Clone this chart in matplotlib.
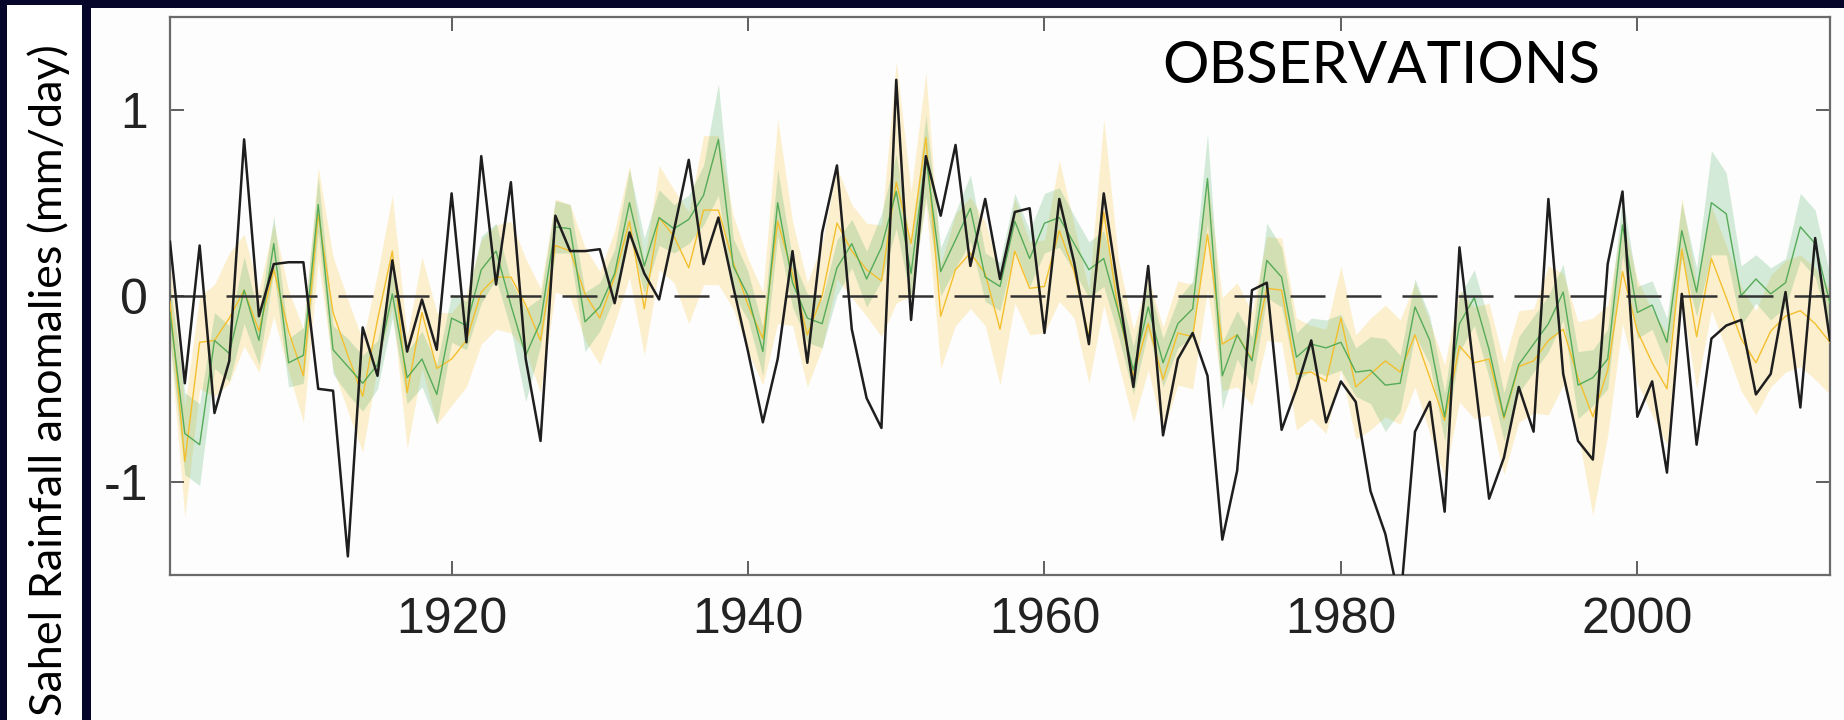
import numpy as np
import matplotlib
matplotlib.use("Agg")
import matplotlib.pyplot as plt
from matplotlib.patches import Rectangle

# ---------------- data ----------------
years = list(range(1901, 2014))

observed = [
    0.29, -0.47, 0.27, -0.63, -0.35, 0.84, -0.11, 0.17, 0.18, 0.18,
    -0.50, -0.51, -1.40, -0.17, -0.43, 0.19, -0.30, -0.02, -0.29, 0.55,
    -0.25, 0.75, 0.06, 0.61, -0.34, -0.78, 0.43, 0.24, 0.24, 0.25,
    -0.04, 0.34, 0.12, -0.02, 0.35, 0.73, 0.17, 0.42, 0.05, -0.30,
    -0.68, -0.34, 0.24, -0.36, 0.34, 0.70, -0.18, -0.55, -0.71, 1.16,
    -0.13, 0.75, 0.43, 0.81, 0.16, 0.52, 0.09, 0.45, 0.47, -0.20,
    0.52, 0.18, -0.26, 0.55, 0.02, -0.49, 0.16, -0.75, -0.34, -0.20,
    -0.43, -1.31, -0.94, 0.03, 0.07, -0.72, -0.50, -0.24, -0.68, -0.46,
    -0.57, -1.05, -1.28, -1.66, -0.73, -0.57, -1.16, 0.26, -0.42, -1.09,
    -0.87, -0.49, -0.73, 0.52, -0.42, -0.78, -0.88, 0.17, 0.56, -0.65,
    -0.46, -0.95, 0.01, -0.80, -0.23, -0.16, -0.13, -0.53, -0.42, 0.02,
    -0.60, 0.31, -0.24,
]

green_mean = [
    -0.09, -0.74, -0.80, -0.24, -0.31, 0.03, -0.24, 0.28, -0.36, -0.32,
    0.49, -0.29, -0.38, -0.47, -0.37, 0.01, -0.44, -0.34, -0.53, -0.12,
    -0.16, 0.14, 0.24, -0.05, -0.32, -0.14, 0.37, 0.36, -0.14, -0.06,
    0.12, 0.50, 0.16, 0.42, 0.36, 0.41, 0.54, 0.84, 0.16, 0.00,
    -0.30, 0.50, 0.07, -0.12, -0.15, 0.15, 0.28, 0.09, 0.26, 0.56,
    0.12, 0.75, 0.13, 0.30, 0.47, 0.10, 0.05, 0.40, 0.20, 0.39,
    0.42, 0.28, 0.14, 0.20, -0.09, -0.40, -0.06, -0.36, -0.15, -0.07,
    0.63, -0.43, -0.21, -0.35, 0.19, 0.10, -0.33, -0.26, -0.28, -0.25,
    -0.41, -0.40, -0.48, -0.47, -0.06, -0.24, -0.65, -0.15, -0.01, -0.29,
    -0.65, -0.37, -0.26, -0.15, 0.02, -0.48, -0.44, -0.34, 0.38, -0.09,
    -0.05, -0.25, 0.35, 0.02, 0.50, 0.44, 0.00, 0.09, 0.01, 0.07,
    0.37, 0.28, -0.04,
]

green_spread = [
    0.15, 0.22, 0.22, 0.15, 0.15, 0.18, 0.13, 0.15, 0.13, 0.15,
    0.15, 0.13, 0.15, 0.15, 0.13, 0.13, 0.14, 0.15, 0.16, 0.13,
    0.13, 0.18, 0.15, 0.13, 0.25, 0.13, 0.14, 0.13, 0.16, 0.13,
    0.13, 0.18, 0.15, 0.15, 0.13, 0.13, 0.16, 0.30, 0.15, 0.13,
    0.13, 0.18, 0.13, 0.13, 0.13, 0.15, 0.13, 0.15, 0.18, 0.20,
    0.14, 0.22, 0.13, 0.15, 0.18, 0.13, 0.13, 0.15, 0.15, 0.16,
    0.16, 0.15, 0.15, 0.15, 0.13, 0.13, 0.13, 0.13, 0.13, 0.15,
    0.24, 0.18, 0.13, 0.13, 0.20, 0.16, 0.13, 0.14, 0.15, 0.15,
    0.13, 0.18, 0.25, 0.15, 0.15, 0.13, 0.13, 0.15, 0.15, 0.15,
    0.13, 0.15, 0.15, 0.15, 0.15, 0.18, 0.15, 0.16, 0.16, 0.14,
    0.13, 0.13, 0.15, 0.13, 0.28, 0.22, 0.16, 0.13, 0.14, 0.13,
    0.18, 0.18, 0.15,
]

yellow_mean = [
    -0.03, -0.89, -0.25, -0.24, -0.12, 0.03, -0.19, 0.14, -0.19, -0.43,
    0.44, -0.09, -0.32, -0.54, -0.13, 0.24, -0.52, -0.09, -0.39, -0.34,
    -0.24, 0.02, 0.10, 0.10, -0.05, -0.24, 0.27, 0.24, 0.01, -0.12,
    0.10, 0.40, -0.07, 0.42, 0.32, 0.15, 0.46, 0.46, 0.18, -0.05,
    -0.23, 0.40, 0.12, -0.21, 0.00, 0.39, 0.24, 0.14, 0.08, 0.61,
    0.28, 0.85, -0.11, 0.14, 0.23, 0.12, -0.18, 0.24, 0.04, 0.05,
    0.35, 0.13, -0.22, 0.45, -0.09, -0.43, -0.15, -0.45, -0.20, -0.22,
    0.33, -0.26, -0.21, -0.34, 0.04, 0.03, -0.42, -0.41, -0.46, -0.12,
    -0.49, -0.42, -0.35, -0.41, -0.21, -0.44, -0.67, -0.27, -0.36, -0.34,
    -0.66, -0.38, -0.35, -0.24, -0.18, -0.44, -0.65, -0.40, 0.13, -0.19,
    -0.36, -0.50, 0.25, -0.22, 0.20, -0.01, -0.23, -0.36, -0.19, -0.11,
    -0.08, -0.15, -0.25,
]

yellow_spread = [
    0.22, 0.30, 0.25, 0.30, 0.35, 0.30, 0.22, 0.25, 0.22, 0.25,
    0.25, 0.30, 0.30, 0.30, 0.25, 0.30, 0.30, 0.30, 0.30, 0.25,
    0.25, 0.28, 0.28, 0.30, 0.25, 0.28, 0.25, 0.25, 0.25, 0.25,
    0.25, 0.30, 0.25, 0.28, 0.25, 0.30, 0.40, 0.40, 0.25, 0.25,
    0.25, 0.55, 0.28, 0.28, 0.28, 0.30, 0.25, 0.25, 0.30, 0.65,
    0.28, 0.35, 0.28, 0.30, 0.30, 0.28, 0.30, 0.28, 0.25, 0.25,
    0.38, 0.25, 0.25, 0.50, 0.28, 0.25, 0.25, 0.28, 0.28, 0.28,
    0.30, 0.25, 0.28, 0.25, 0.28, 0.28, 0.30, 0.25, 0.28, 0.28,
    0.28, 0.30, 0.30, 0.28, 0.28, 0.30, 0.30, 0.30, 0.30, 0.30,
    0.30, 0.30, 0.28, 0.40, 0.30, 0.30, 0.53, 0.35, 0.28, 0.28,
    0.28, 0.30, 0.28, 0.28, 0.28, 0.28, 0.28, 0.28, 0.30, 0.30,
    0.30, 0.30, 0.28,
]

x_ticks = [1920, 1940, 1960, 1980, 2000]
y_ticks = [-1, 0, 1]
y_tick_labels = ["-1", "0", "1"]
title_text = "OBSERVATIONS"
ylabel_text = "Sahel Rainfall anomalies (mm/day)"

# ---------------- figure ----------------
W, H = 1844, 720
fig = plt.figure(figsize=(W / 100, H / 100), dpi=100)
navy = "#06052a"
fig.patch.set_facecolor(navy)

def px_rect(x0, y0_top, x1, y1_top, color):
    r = Rectangle((x0 / W, 1 - y1_top / H), (x1 - x0) / W, (y1_top - y0_top) / H,
                  transform=fig.transFigure, facecolor=color, edgecolor="none",
                  zorder=-10)
    fig.patches.append(r)

px_rect(7, 5, 82, 720, "white")
px_rect(91, 8, 1844, 720, "#fdfdfd")

ax_l, ax_r, ax_t, ax_b = 170, 1830, 16.5, 575
ax = fig.add_axes([ax_l / W, 1 - ax_b / H, (ax_r - ax_l) / W, (ax_b - ax_t) / H])
ax.set_zorder(5)
ax.set_facecolor("#fdfdfd")

yrs = np.array(years)
gm = np.array(green_mean); gs = np.array(green_spread)
ym = np.array(yellow_mean); ys = np.array(yellow_spread)

ax.fill_between(yrs, ym - ys, ym + ys, color="#f9c845", alpha=0.25, lw=0, zorder=1)
ax.fill_between(yrs, gm - gs, gm + gs, color="#3ba552", alpha=0.21, lw=0, zorder=2)
ax.plot(yrs, ym, color="#f4bf2c", lw=1.0, zorder=3)
ax.plot(yrs, gm, color="#55ab58", lw=1.0, zorder=4)
ax.axhline(0, color="#333333", lw=1.8, linestyle=(0, (14, 8.4)), zorder=5)
ax.plot(yrs, observed, color="#1e1e1e", lw=1.8, zorder=6)

ax.set_xlim(1901, 2013)
ax.set_ylim(-1.5, 1.5)
ax.set_xticks(x_ticks)
ax.set_xticklabels([str(t) for t in x_ticks])
ax.set_yticks(y_ticks)
ax.set_yticklabels(y_tick_labels)

for lab in ax.get_xticklabels() + ax.get_yticklabels():
    lab.set_fontfamily("Liberation Sans")
    lab.set_fontsize(36)
    lab.set_color("#222222")

ax.tick_params(axis="both", direction="in", length=10, width=1.2, color="#444444",
               top=True, right=True)
ax.tick_params(axis="x", pad=16)
ax.tick_params(axis="y", pad=16)
for s in ax.spines.values():
    s.set_color("#6a6a6a")
    s.set_linewidth(1.6)

# text sized to match target pixel extents
fig.canvas.draw()
renderer = fig.canvas.get_renderer()

t = fig.text(1162 / W, 1 - 83 / H, title_text, family="Lato", fontsize=40,
             color="black", ha="left", va="baseline", zorder=10)
w = t.get_window_extent(renderer).width
t.set_fontsize(40 * 438 / w)

yl = fig.text(49 / W, 1 - 380 / H, ylabel_text, family="Lato", fontsize=30,
              color="black", ha="center", va="center", rotation=90, zorder=10)
h = yl.get_window_extent(renderer).height
yl.set_fontsize(30 * 672 / h)

fig.savefig("out.png", dpi=100, facecolor=fig.get_facecolor())
